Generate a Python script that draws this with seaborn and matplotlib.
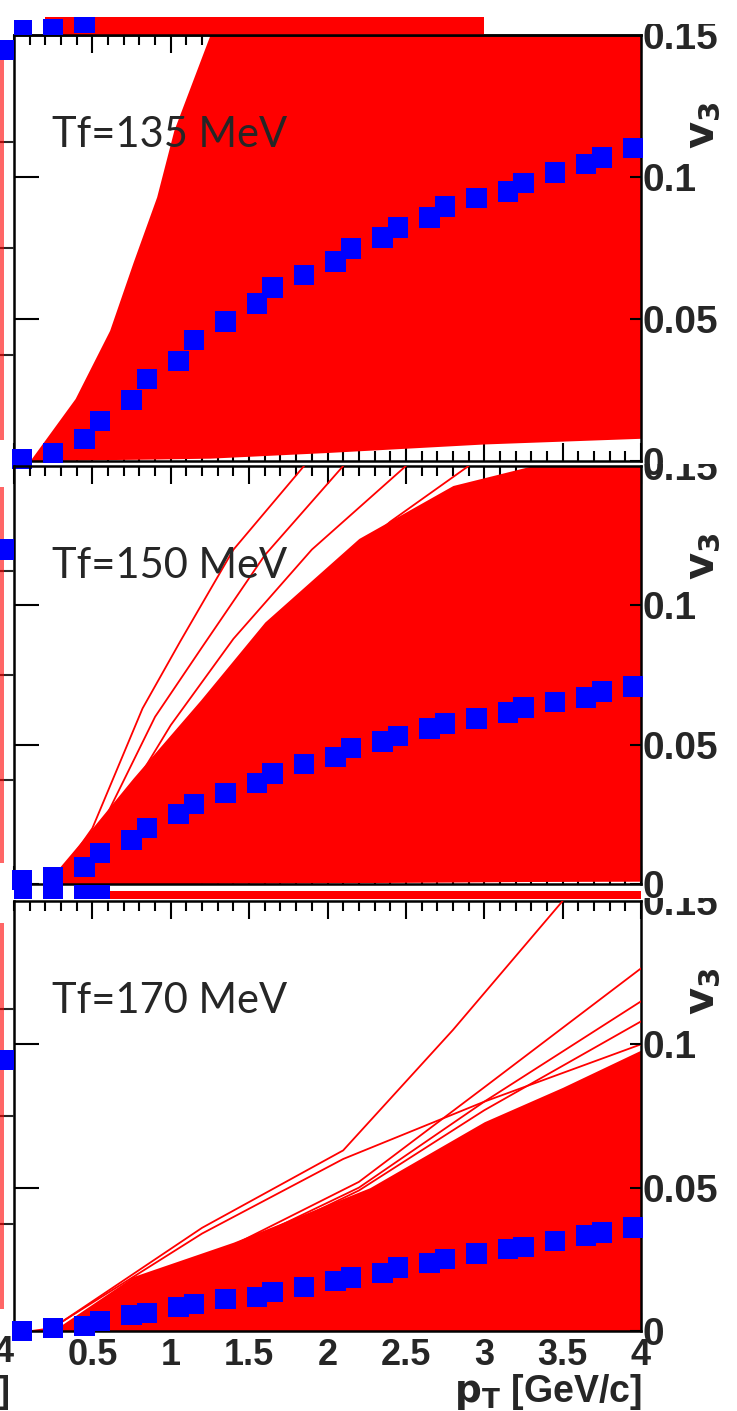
import numpy as np
import pandas as pd
import matplotlib
matplotlib.use("Agg")
import matplotlib.pyplot as plt
import seaborn as sns
from matplotlib.ticker import MultipleLocator
from matplotlib.transforms import Bbox, TransformedBbox

# ---------------- data ----------------
pt = [0.05, 0.25, 0.45, 0.55, 0.75, 0.85, 1.05, 1.15, 1.35, 1.55, 1.65, 1.85, 2.05,
      2.15, 2.35, 2.45, 2.65, 2.75, 2.95, 3.15, 3.25, 3.45, 3.65, 3.75, 3.95]
v3_135 = [0.0007, 0.0028, 0.0078, 0.0141, 0.0215, 0.0289, 0.0353, 0.0427, 0.0491,
          0.0554, 0.0611, 0.0656, 0.0702, 0.0748, 0.0787, 0.0822, 0.0858, 0.0896,
          0.0925, 0.0949, 0.0978, 0.1016, 0.1045, 0.1069, 0.1101]
v3_150 = [0.0014, 0.0025, 0.0061, 0.0111, 0.0158, 0.0200, 0.0251, 0.0286, 0.0326,
          0.0362, 0.0397, 0.0430, 0.0455, 0.0487, 0.0512, 0.0530, 0.0558, 0.0576,
          0.0594, 0.0616, 0.0634, 0.0652, 0.0669, 0.0691, 0.0709]
v3_170 = [0.0000, 0.0011, 0.0018, 0.0035, 0.0056, 0.0063, 0.0084, 0.0095, 0.0112,
          0.0119, 0.0137, 0.0154, 0.0175, 0.0186, 0.0203, 0.0221, 0.0238, 0.0252,
          0.0270, 0.0287, 0.0294, 0.0315, 0.0333, 0.0343, 0.0361]

# envelopes of the dense band of event-by-event curves
band135_pt = [0.10, 0.39, 0.61, 0.76, 0.91, 1.02, 1.25, 2.0, 3.0, 4.0]
band135_hi = [0.0, 0.022, 0.046, 0.070, 0.093, 0.1165, 0.15, 0.15, 0.15, 0.15]
band135_lo = [0.0, 0.0003, 0.0005, 0.0006, 0.0007, 0.0008, 0.001, 0.003, 0.006, 0.008]

band150_pt = [0.20, 0.44, 0.76, 1.19, 1.6, 2.2, 2.8, 3.3, 4.0]
band150_hi = [0.0, 0.016, 0.038, 0.066, 0.094, 0.124, 0.143, 0.15, 0.15]
band150_lo = [0.0, 0.0, 0.0, 0.0002, 0.0003, 0.0005, 0.0007, 0.0009, 0.001]

band170_pt = [0.05, 0.30, 0.76, 1.4, 2.27, 3.0, 3.5, 4.0]
band170_hi = [0.0, 0.002, 0.019, 0.031, 0.050, 0.073, 0.085, 0.098]
band170_lo = [0.0, 0.0, 0.0, 0.0, 0.0, 0.0, 0.0, 0.0]

# individual curves standing out of the band
lines150 = {
    "a": ([0.25, 0.5, 0.82, 1.06, 1.4, 1.85], [0.0, 0.020, 0.063, 0.087, 0.120, 0.150]),
    "b": ([0.25, 0.55, 0.9, 1.2, 1.6, 2.1], [0.0, 0.020, 0.060, 0.085, 0.118, 0.150]),
    "c": ([0.25, 0.6, 1.0, 1.4, 1.9, 2.5], [0.0, 0.020, 0.057, 0.088, 0.120, 0.150]),
    "d": ([0.3, 0.7, 1.2, 1.8, 2.4, 2.9], [0.0, 0.025, 0.060, 0.100, 0.130, 0.150]),
}
lines170 = {
    "a": ([0.3, 1.2, 2.1, 2.8, 3.5], [0.003, 0.036, 0.063, 0.105, 0.150]),
    "b": ([0.3, 1.2, 2.1, 3.0, 4.0], [0.003, 0.034, 0.060, 0.080, 0.100]),
    "c": ([0.4, 1.4, 2.2, 3.0, 4.0], [0.002, 0.030, 0.052, 0.085, 0.1265]),
    "d": ([0.4, 1.4, 2.2, 3.0, 4.0], [0.002, 0.029, 0.050, 0.080, 0.115]),
    "e": ([0.4, 1.4, 2.2, 3.0, 4.0], [0.002, 0.028, 0.049, 0.077, 0.108]),
}

labels = ["Tf=135 MeV", "Tf=150 MeV", "Tf=170 MeV"]
y_ticks = [0, 0.05, 0.1]
y_ticklabels = ["0", "0.05", "0.1"]
x_ticks = [0.5, 1, 1.5, 2, 2.5, 3, 3.5, 4]
x_ticklabels = ["0.5", "1", "1.5", "2", "2.5", "3", "3.5", "4"]

# ---------------- style ----------------
sns.set_theme(style="white")
plt.rcParams['font.family'] = ['Liberation Sans', 'DejaVu Sans']
plt.rcParams['mathtext.fontset'] = 'custom'
plt.rcParams['mathtext.rm'] = 'Liberation Sans Narrow'
plt.rcParams['mathtext.bf'] = 'Liberation Sans Narrow:bold'
plt.rcParams['mathtext.it'] = 'Liberation Sans Narrow:italic'

NARROW = ['Liberation Sans Narrow', 'Liberation Sans', 'DejaVu Sans']

W, H = 737, 1411
fig = plt.figure(figsize=(W / 100, H / 100), dpi=100)
fig.patch.set_facecolor("white")

RED = "#ff0000"
BLUE = "#0000ff"
TICKFS = 28
XTICKFS = 26


def ax_at(l, t, r, b):
    a = fig.add_axes([l / W, 1 - b / H, (r - l) / W, (b - t) / H])
    a.patch.set_alpha(0)
    return a


def clip_box(l, t, r, b):
    return TransformedBbox(Bbox.from_extents(l / W, 1 - b / H, r / W, 1 - t / H), fig.transFigure)


L, R = 14, 641
panels = [(35, 461), (466, 884), (901, 1331)]
bands = [(band135_pt, band135_lo, band135_hi),
         (band150_pt, band150_lo, band150_hi),
         (band170_pt, band170_lo, band170_hi)]
extra = [None, lines150, lines170]
v3s = [v3_135, v3_150, v3_170]
clip_tops = [24, 464, 898]

for i, (top, bot) in enumerate(panels):
    ax = ax_at(L, top, R, bot)
    bpt, blo, bhi = bands[i]
    ax.fill_between(bpt, blo, bhi, color=RED, lw=0, zorder=2)
    if extra[i] is not None:
        rows = []
        for k, (xs, ys) in extra[i].items():
            for x_, y_ in zip(xs, ys):
                rows.append({"line": k, "pt": x_, "v3": y_})
        df = pd.DataFrame(rows)
        sns.lineplot(data=df, x="pt", y="v3", units="line", estimator=None,
                     color=RED, lw=1.3, ax=ax, zorder=3, sort=False)
    sns.scatterplot(x=pt, y=v3s[i], marker="s", s=215, color=BLUE, edgecolor="none",
                    ax=ax, zorder=5, clip_on=False)
    ax.set_xlim(0, 4)
    ax.set_ylim(0, 0.15)
    ax.set_xlabel("")
    ax.set_ylabel("")
    ax.xaxis.set_major_locator(MultipleLocator(0.5))
    ax.xaxis.set_minor_locator(MultipleLocator(0.1))
    ax.set_yticks(y_ticks)
    ax.tick_params(axis="x", which="major", direction="in", top=True, bottom=True,
                   length=13, width=1.5, color="black", labelbottom=False)
    ax.tick_params(axis="x", which="minor", direction="in", top=True, bottom=True,
                   length=7, width=1.5, color="black")
    ax.tick_params(axis="y", which="major", direction="in", left=True, right=False,
                   length=18, width=1.5, color="black", labelleft=False)
    for s in ax.spines.values():
        s.set_linewidth(1.8)
        s.set_color("black")
    ax2 = ax.twinx()
    ax2.patch.set_alpha(0)
    ax2.set_ylim(0, 0.15)
    ax2.set_yticks(y_ticks)
    ax2.set_yticklabels(y_ticklabels, fontsize=TICKFS, fontweight="bold", family=NARROW)
    ax2.tick_params(axis="y", direction="in", length=8, width=1.5, pad=1, color="black")
    for s in ax2.spines.values():
        s.set_visible(False)
    ax2.grid(False)
    # partially hidden 0.15 label at the top of the panel
    t = fig.text((R + 1) / W, 1 - top / H, "0.15", fontsize=TICKFS, fontweight="bold",
                 family=NARROW, ha="left", va="center_baseline")
    t.set_clip_on(True)
    t.set_clip_box(clip_box(R, clip_tops[i], W, top + 30))
    # v3 axis title
    fig.text(703 / W, 1 - (top + 90) / H, r"$\mathbf{v_3}$", fontsize=30, rotation=90,
             ha="center", va="center")
    # temperature label
    fig.text(52 / W, 1 - (top + 112) / H, labels[i], fontsize=30, family=["Lato", "DejaVu Sans"],
             ha="left", va="baseline")
    if i == 2:
        ax.set_xticks(x_ticks)
        ax.set_xticklabels(x_ticklabels, fontsize=XTICKFS, fontweight="bold", family=NARROW)
        ax.tick_params(axis="x", which="major", labelbottom=True, pad=5)
        ax.tick_params(axis="x", which="minor", bottom=True)
        fig.text(642 / W, 1 - 1392 / H, r"$\mathbf{p_T}$ [GeV/c]", fontsize=27,
                 fontweight="bold", family=NARROW, ha="right", va="center")

# ---- fragments of neighbouring panels ----
# strip above the top panel
axt = ax_at(L, 17, R, 35)
axt.fill_between([0.2, 3.0], [0, 0], [0.01, 0.01], color=RED, lw=0)
sns.scatterplot(x=[0.05, 0.25, 0.45], y=[0.0025, 0.003, 0.006], marker="s", s=215,
                color=BLUE, edgecolor="none", ax=axt, zorder=5)
axt.set_xlim(0, 4)
axt.set_ylim(0, 0.009)
axt.set_xlabel(""); axt.set_ylabel("")
axt.set_yticks([])
axt.xaxis.set_major_locator(MultipleLocator(0.5))
axt.xaxis.set_minor_locator(MultipleLocator(0.1))
axt.tick_params(axis="x", which="major", direction="in", length=10, width=1.5, labelbottom=False)
axt.tick_params(axis="x", which="minor", direction="in", length=6, width=1.5)
for k, s in axt.spines.items():
    s.set_visible(k == "bottom")
    s.set_linewidth(1.8); s.set_color("black")

# strip between middle and bottom panels
axm = ax_at(L, 885, R, 899)
axm.fill_between([0.4, 4.0], [0.0, 0.0], [0.004, 0.004], color=RED, lw=0)
sns.scatterplot(x=[0.05, 0.25, 0.45, 0.55], y=[0.001, 0.002, 0.003, 0.003], marker="s", s=215,
                color=BLUE, edgecolor="none", ax=axm, zorder=5)
axm.set_xlim(0, 4)
axm.set_ylim(0, 0.007)
axm.set_xlabel(""); axm.set_ylabel("")
axm.set_xticks([]); axm.set_yticks([])
for s in axm.spines.values():
    s.set_visible(False)

# left strips
for i, (top, bot) in enumerate(panels):
    axl = ax_at(0, top, L, bot)
    axl.fill_between([3.9, 3.93], [0.01, 0.01], [0.19, 0.19], color=RED, lw=0, alpha=0.6)
    sns.scatterplot(x=[3.95], y=[[0.193, 0.16, 0.126][i]], marker="s", s=215, color=BLUE,
                    edgecolor="none", ax=axl, zorder=5)
    axl.set_xlim(3.9, 4.0)
    axl.set_ylim(0, 0.2)
    axl.set_xlabel(""); axl.set_ylabel("")
    axl.set_xticks([])
    axl.yaxis.tick_right()
    axl.set_yticks([0.05, 0.1, 0.15])
    axl.tick_params(axis="y", direction="in", length=14, width=1.5, labelright=False)
    for s in axl.spines.values():
        s.set_visible(False)

fig.text(4 / W, 1 - 1352 / H, "4", fontsize=XTICKFS, fontweight="bold", family=NARROW,
         ha="center", va="center")
fig.text(4 / W, 1 - 1392 / H, "]", fontsize=XTICKFS, fontweight="bold", family=NARROW,
         ha="center", va="center")

fig.savefig("out.png", dpi=100, facecolor="white")
